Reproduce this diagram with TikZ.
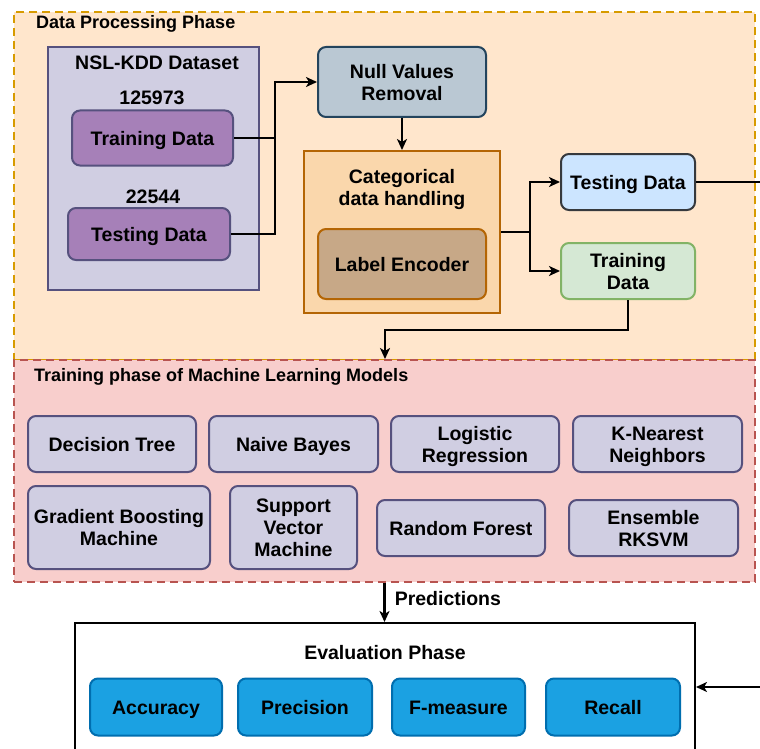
\documentclass[tikz,border=0pt]{standalone}
\usepackage{fontspec}
\setmainfont{Liberation Sans}
\usetikzlibrary{arrows.meta}
\definecolor{pofill}{HTML}{FFE6CC}\definecolor{podraw}{HTML}{D79B00}
\definecolor{purfill}{HTML}{D0CEE2}\definecolor{purdraw}{HTML}{56517E}
\definecolor{violfill}{HTML}{A680B8}
\definecolor{nullfill}{HTML}{BAC8D3}\definecolor{nulldraw}{HTML}{23445D}
\definecolor{catfill}{HTML}{FAD7AC}\definecolor{catdraw}{HTML}{B46504}
\definecolor{lefill}{HTML}{C7A887}
\definecolor{tefill}{HTML}{CCE5FF}\definecolor{tedraw}{HTML}{36393D}
\definecolor{trfill}{HTML}{D5E8D4}\definecolor{trdraw}{HTML}{82B366}
\definecolor{ptfill}{HTML}{F8CECC}\definecolor{ptdraw}{HTML}{B85450}
\definecolor{mfill}{HTML}{1BA1E2}\definecolor{mdraw}{HTML}{006EAF}
\newcommand\mystrut{\rule[-4.2pt]{0pt}{23.6pt}}
\newcommand\ms{\rule[-4.2pt]{0pt}{23pt}}
\newcommand\mystrutb{\rule[-4.2pt]{0pt}{4.2pt}}
\begin{document}
\begin{tikzpicture}[x=1pt,y=-1pt,
  every node/.style={font=\bfseries\fontsize{19.5}{22}\selectfont, align=center, inner sep=0pt},
  box/.style={draw, line width=2pt, rounded corners=8pt,
    execute at begin node=\mystrut, execute at end node=\mystrutb},
  sqbox/.style={draw, line width=2pt},
  phase/.style={draw, line width=2pt, dash pattern=on 8pt off 5pt},
  title/.style={font=\bfseries\fontsize{18}{21}\selectfont},
  conn/.style={line width=2.6pt, black},
  arr/.style={conn, -{Stealth[length=11pt,width=10pt,inset=3pt]}}]
\clip (0,0) rectangle (760,749);
\fill[white] (0,0) rectangle (760,749);
% Data processing phase
\node[phase, fill=pofill, draw=podraw, minimum width=741, minimum height=348] (p1) at (384.5,186) {};
\node[title, anchor=west] (p1t) at (36,24) {Data Processing Phase};
\node[sqbox, fill=purfill, draw=purdraw, minimum width=211, minimum height=243] (nsl) at (153.5,168.5) {};
\node (nslt) at (157,63) {NSL-KDD Dataset};
\node (n1) at (152,98) {125973};
\node[box, fill=violfill, draw=purdraw, minimum width=161, minimum height=55] (trL) at (152.5,138) {Training Data};
\node (n2) at (153,197) {22544};
\node[box, fill=violfill, draw=purdraw, minimum width=162, minimum height=52] (teL) at (149,234) {Testing Data};
\node[box, fill=nullfill, draw=nulldraw, minimum width=168, minimum height=70] (null) at (402,82) {\ms Null Values\\Removal};
\node[sqbox, fill=catfill, draw=catdraw, minimum width=196, minimum height=162] (cat) at (402,232) {};
\node (catt) at (402,190) {Categorical\\data handling};
\node[box, fill=lefill, draw=catdraw, minimum width=168, minimum height=70] (le) at (402,264) {Label Encoder};
\node[box, fill=tefill, draw=tedraw, minimum width=134, minimum height=56] (teR) at (628,182) {Testing Data};
\node[box, fill=trfill, draw=trdraw, minimum width=134, minimum height=56] (trR) at (628,271) {\ms Training\\Data};
% Training phase
\node[phase, fill=ptfill, draw=ptdraw, minimum width=741, minimum height=222] (p2) at (384.5,471) {};
\node[title, anchor=west] (p2t) at (34,377) {Training phase of Machine Learning Models};
\begin{scope}[every node/.append style={box, fill=purfill, draw=purdraw}]
\node[minimum width=168, minimum height=56] (dt) at (112,444) {Decision Tree};
\node[minimum width=169, minimum height=56] (nb) at (293.5,444) {Naive Bayes};
\node[minimum width=168, minimum height=56] (lr) at (475,444) {\ms Logistic\\Regression};
\node[minimum width=169, minimum height=56] (knn) at (657.5,444) {\ms K-Nearest\\Neighbors};
\node[minimum width=182, minimum height=83] (gbm) at (119,527.5) {\ms Gradient Boosting\\Machine};
\node[minimum width=127, minimum height=83] (svm) at (293.5,527.5) {\ms Support\\Vector\\Machine};
\node[minimum width=168, minimum height=56] (rf) at (461,528) {Random Forest};
\node[minimum width=169, minimum height=56] (ens) at (653.5,528) {\ms Ensemble\\RKSVM};
\end{scope}
% Evaluation phase
\node[sqbox, fill=white, draw=black, minimum width=620, minimum height=177] (eval) at (385,711.5) {};
\node (evalt) at (385,652.5) {Evaluation Phase};
\begin{scope}[every node/.append style={box, fill=mfill, draw=mdraw, minimum height=57}]
\node[minimum width=132] (acc) at (156,707) {Accuracy};
\node[minimum width=134] (pre) at (305,707) {Precision};
\node[minimum width=133] (fm) at (458.5,707) {F-measure};
\node[minimum width=134] (rec) at (613,707) {Recall};
\end{scope}
% connectors
\coordinate (j1) at (275,138);
\coordinate (j2) at (530,232);
\coordinate (j3) at (385,330);
\coordinate (rt) at (775,687);
\draw[arr] (trL.east) -- (j1) |- (null.west);
\draw[conn] (teL.east) -| (j1);
\draw[arr] (null.south) -- (cat.north);
\draw[arr] (cat.east) -- (j2) |- (teR.west);
\draw[arr] (j2) |- (trR.west);
\draw[arr] (trR.south) |- (j3) -- (j3 |- p2.north);
\draw[arr] (p2.south) -- node[right=9pt, pos=0.4] (predl) {Predictions} (p2.south |- eval.north);
\draw[arr] (teR.east) -- (teR.east -| rt) -- (rt) -- (rt -| eval.east);
\end{tikzpicture}
\end{document}
